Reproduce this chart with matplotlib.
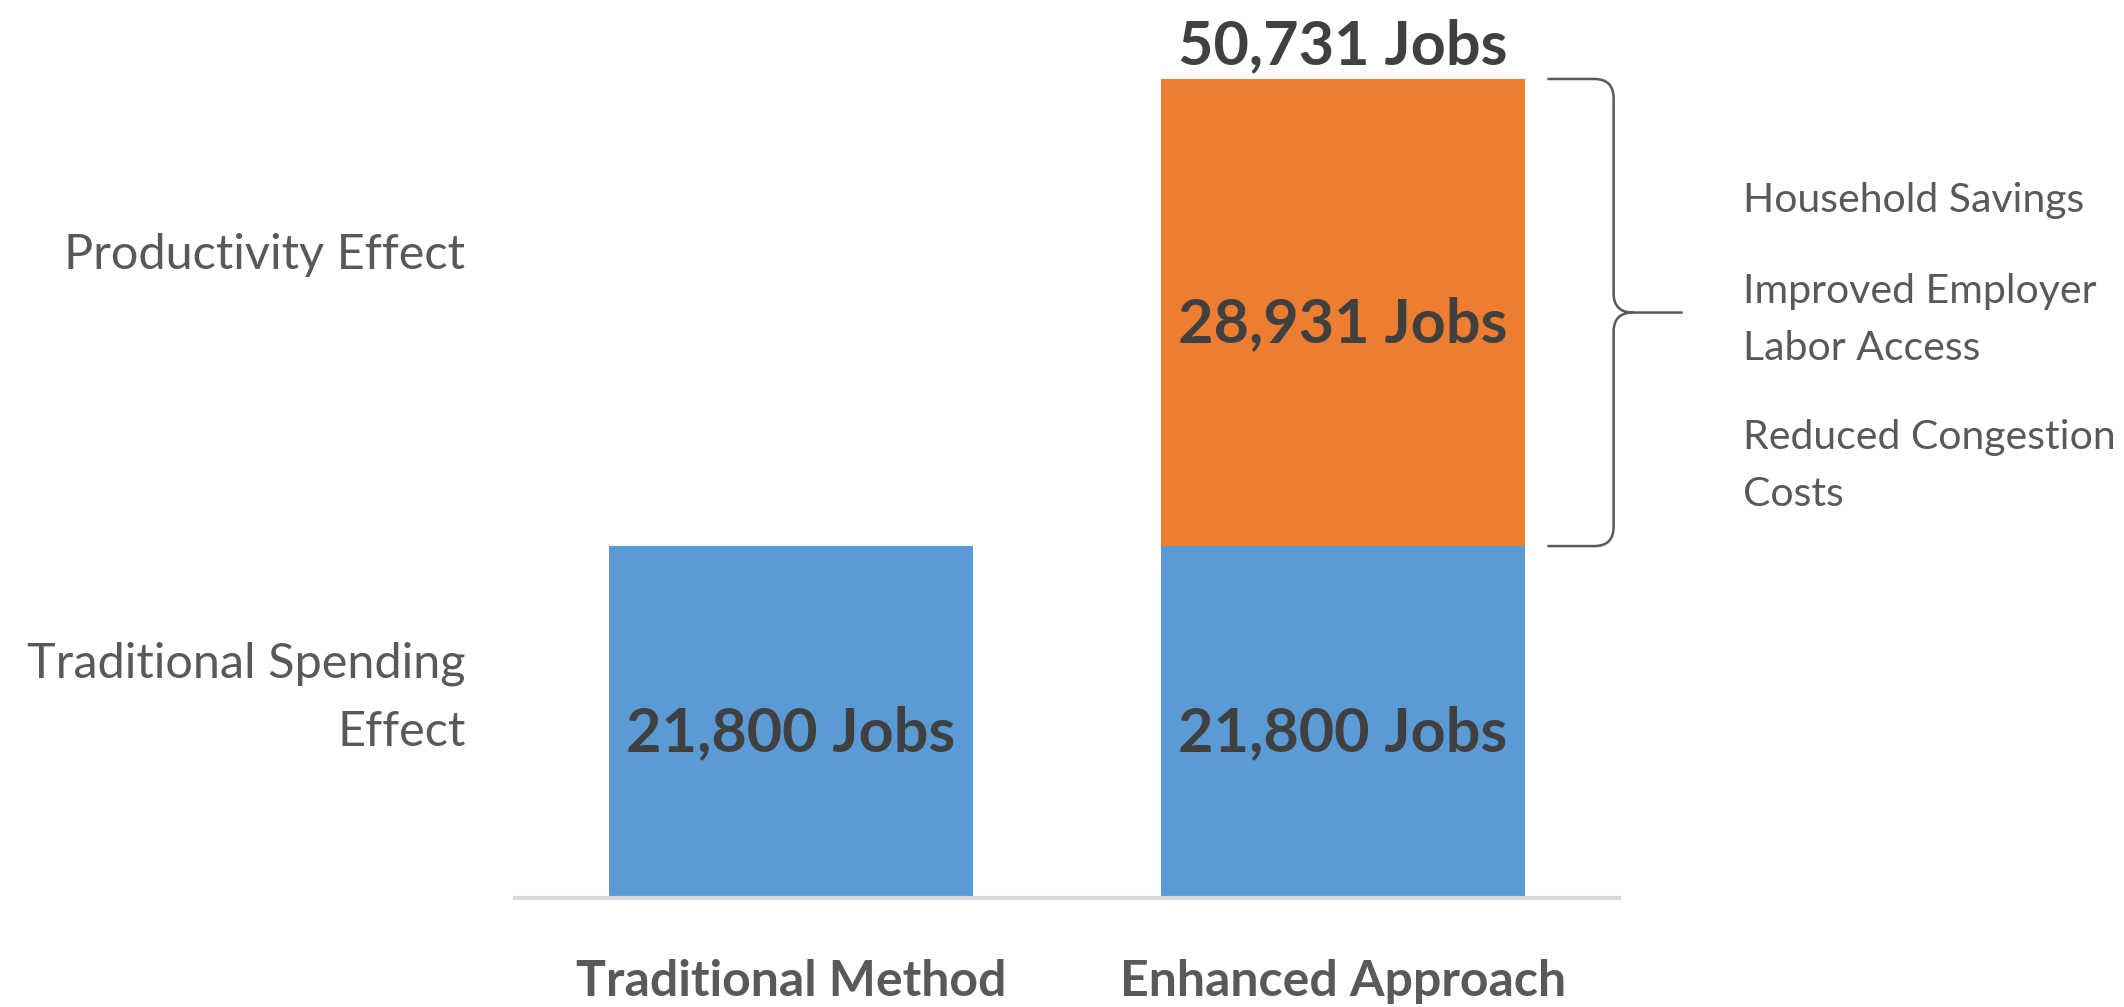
import matplotlib.pyplot as plt
from matplotlib.path import Path
from matplotlib.patches import PathPatch

plt.rcParams['font.family'] = ['Lato', 'DejaVu Sans']

methods = ['Traditional Method', 'Enhanced Approach']
spending = [21800, 21800]
productivity = [0, 28931]
segments = ['Traditional Spending\nEffect', 'Productivity Effect']
drivers = ['Household Savings', 'Improved Employer\nLabor Access',
           'Reduced Congestion\nCosts']

blue = '#5B9BD5'
orange = '#ED7D31'
dark = '#404040'
grey = '#595959'

fig = plt.figure(figsize=(21.24, 10.07), dpi=100)
ax = fig.add_axes([0.2425, 0.1082, 0.5198, 0.877])

x = list(range(len(methods)))
ax.bar(x, spending, width=0.66, color=blue)
ax.bar(x[1:], productivity[1:], bottom=spending[1:], width=0.66, color=orange)

ax.set_xlim(-0.5, 1.5)
ax.set_ylim(0, 54700)
for s in ['top', 'right', 'left']:
    ax.spines[s].set_visible(False)
ax.spines['bottom'].set_color('#D9D9D9')
ax.spines['bottom'].set_linewidth(3)
ax.set_yticks([])
ax.set_xticks(x)
ax.set_xticklabels(methods, fontsize=36, fontweight='bold', color=grey)
ax.tick_params(axis='x', length=0, pad=44)

# value labels
for i in x:
    ax.text(i, spending[i] / 2 - 700, f'{spending[i]:,} Jobs', ha='center',
            va='center', fontsize=44, fontweight='bold', color=dark)
ax.text(1, spending[1] + productivity[1] / 2 - 700, f'{productivity[1]:,} Jobs',
        ha='center', va='center', fontsize=44, fontweight='bold', color=dark)
total = spending[1] + productivity[1]
ax.text(1, total + 300, f'{total:,} Jobs', ha='center', va='bottom',
        fontsize=44, fontweight='bold', color=dark)

# segment labels on the left
ax.text(-0.59, 12390, segments[0], ha='right', va='center', fontsize=35,
        color=grey, linespacing=1.68)
ax.text(-0.59, 39840, segments[1], ha='right', va='center', fontsize=35,
        color=grey)

# curly brace beside the productivity segment
top = total
bot = spending[1]
mid = bot + productivity[1] / 2
x0, x1, xt = 1.37, 1.49, 1.615
rx, ry = 0.035, 1200
verts = [(x0, top), (x1 - rx, top), (x1, top), (x1, top - ry),
         (x1, mid + ry), (x1, mid), (x1 + rx, mid), (xt, mid),
         (x1 + rx, mid), (x1, mid), (x1, mid - ry),
         (x1, bot + ry), (x1, bot), (x1 - rx, bot), (x0, bot)]
codes = [Path.MOVETO, Path.LINETO, Path.CURVE3, Path.CURVE3,
         Path.LINETO, Path.CURVE3, Path.CURVE3, Path.LINETO,
         Path.MOVETO, Path.CURVE3, Path.CURVE3,
         Path.LINETO, Path.CURVE3, Path.CURVE3, Path.LINETO]
ax.add_patch(PathPatch(Path(verts, codes), fill=False, edgecolor=grey,
                       linewidth=1.8, clip_on=False))

# drivers of the productivity effect
driver_y = [43215, 35810, 26765]
for label, yy in zip(drivers, driver_y):
    ax.text(1.724, yy, label, ha='left', va='center', fontsize=29.5,
            color=grey, linespacing=1.65)

fig.savefig('out.png', dpi=100)
